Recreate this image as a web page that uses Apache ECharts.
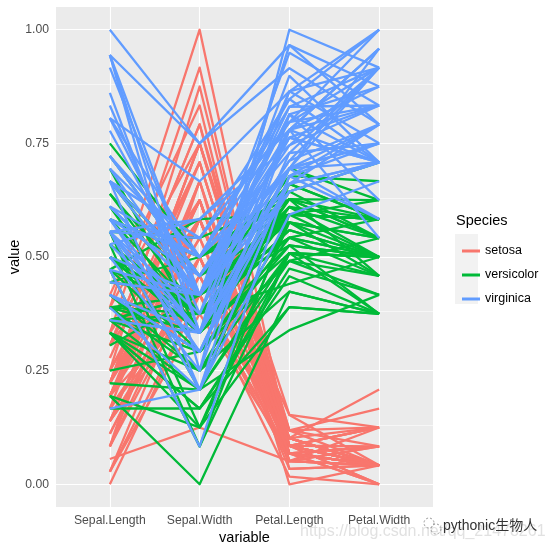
<!DOCTYPE html>
<html>
<head>
<meta charset="utf-8">
<script src="https://cdn.jsdelivr.net/npm/echarts@6/dist/echarts.min.js"></script>
<style>html,body{margin:0;padding:0;background:#fff}#c{width:553px;height:552px}</style>
</head>
<body>
<div id="c"></div>
<script>
// Iris measurements (rows 1-50 setosa, 51-100 versicolor, 101-150 virginica)
var variables = ['Sepal.Length', 'Sepal.Width', 'Petal.Length', 'Petal.Width'];
var speciesNames = ['setosa', 'versicolor', 'virginica'];
var speciesColors = ['#F8766D', '#00BA38', '#619CFF'];
var rowsPerSpecies = [50, 50, 50];
var yTicks = [0, 0.25, 0.5, 0.75, 1];
var yMinorTicks = [0.125, 0.375, 0.625, 0.875];

var sepalLength = [
5.1,4.9,4.7,4.6,5.0,5.4,4.6,5.0,4.4,4.9,5.4,4.8,4.8,4.3,5.8,5.7,5.4,5.1,5.7,5.1,5.4,5.1,4.6,5.1,4.8,5.0,5.0,5.2,5.2,4.7,4.8,5.4,5.2,5.5,4.9,5.0,5.5,4.9,4.4,5.1,5.0,4.5,4.4,5.0,5.1,4.8,5.1,4.6,5.3,5.0,
7.0,6.4,6.9,5.5,6.5,5.7,6.3,4.9,6.6,5.2,5.0,5.9,6.0,6.1,5.6,6.7,5.6,5.8,6.2,5.6,5.9,6.1,6.3,6.1,6.4,6.6,6.8,6.7,6.0,5.7,5.5,5.5,5.8,6.0,5.4,6.0,6.7,6.3,5.6,5.5,5.5,6.1,5.8,5.0,5.6,5.7,5.7,6.2,5.1,5.7,
6.3,5.8,7.1,6.3,6.5,7.6,4.9,7.3,6.7,7.2,6.5,6.4,6.8,5.7,5.8,6.4,6.5,7.7,7.7,6.0,6.9,5.6,7.7,6.3,6.7,7.2,6.2,6.1,6.4,7.2,7.4,7.9,6.4,6.3,6.1,7.7,6.3,6.4,6.0,6.9,6.7,6.9,5.8,6.8,6.7,6.7,6.3,6.5,6.2,5.9];
var sepalWidth = [
3.5,3.0,3.2,3.1,3.6,3.9,3.4,3.4,2.9,3.1,3.7,3.4,3.0,3.0,4.0,4.4,3.9,3.5,3.8,3.8,3.4,3.7,3.6,3.3,3.4,3.0,3.4,3.5,3.4,3.2,3.1,3.4,4.1,4.2,3.1,3.2,3.5,3.6,3.0,3.4,3.5,2.3,3.2,3.5,3.8,3.0,3.8,3.2,3.7,3.3,
3.2,3.2,3.1,2.3,2.8,2.8,3.3,2.4,2.9,2.7,2.0,3.0,2.2,2.9,2.9,3.1,3.0,2.7,2.2,2.5,3.2,2.8,2.5,2.8,2.9,3.0,2.8,3.0,2.9,2.6,2.4,2.4,2.7,2.7,3.0,3.4,3.1,2.3,3.0,2.5,2.6,3.0,2.6,2.3,2.7,3.0,2.9,2.9,2.5,2.8,
3.3,2.7,3.0,2.9,3.0,3.0,2.5,2.9,2.5,3.6,3.2,2.7,3.0,2.5,2.8,3.2,3.0,3.8,2.6,2.2,3.2,2.8,2.8,2.7,3.3,3.2,2.8,3.0,2.8,3.0,2.8,3.8,2.8,2.8,2.6,3.0,3.4,3.1,3.0,3.1,3.1,3.1,2.7,3.2,3.3,3.0,2.5,3.0,3.4,3.0];
var petalLength = [
1.4,1.4,1.3,1.5,1.4,1.7,1.4,1.5,1.4,1.5,1.5,1.6,1.4,1.1,1.2,1.5,1.3,1.4,1.7,1.5,1.7,1.5,1.0,1.7,1.9,1.6,1.6,1.5,1.4,1.6,1.6,1.5,1.5,1.4,1.5,1.2,1.3,1.4,1.3,1.5,1.3,1.3,1.3,1.6,1.9,1.4,1.6,1.4,1.5,1.4,
4.7,4.5,4.9,4.0,4.6,4.5,4.7,3.3,4.6,3.9,3.5,4.2,4.0,4.7,3.6,4.4,4.5,4.1,4.5,3.9,4.8,4.0,4.9,4.7,4.3,4.4,4.8,5.0,4.5,3.5,3.8,3.7,3.9,5.1,4.5,4.5,4.7,4.4,4.1,4.0,4.4,4.6,4.0,3.3,4.2,4.2,4.2,4.3,3.0,4.1,
6.0,5.1,5.9,5.6,5.8,6.6,4.5,6.3,5.8,6.1,5.1,5.3,5.5,5.0,5.1,5.3,5.5,6.7,6.9,5.0,5.7,4.9,6.7,4.9,5.7,6.0,4.8,4.9,5.6,5.8,6.1,6.4,5.6,5.1,5.6,6.1,5.6,5.5,4.8,5.4,5.6,5.1,5.1,5.9,5.7,5.2,5.0,5.2,5.4,5.1];
var petalWidth = [
0.2,0.2,0.2,0.2,0.2,0.4,0.3,0.2,0.2,0.1,0.2,0.2,0.1,0.1,0.2,0.4,0.4,0.3,0.3,0.3,0.2,0.4,0.2,0.5,0.2,0.2,0.4,0.2,0.2,0.2,0.2,0.4,0.1,0.2,0.2,0.2,0.2,0.1,0.2,0.2,0.3,0.3,0.2,0.6,0.4,0.3,0.2,0.2,0.2,0.2,
1.4,1.5,1.5,1.3,1.5,1.3,1.6,1.0,1.3,1.4,1.0,1.5,1.0,1.4,1.3,1.4,1.5,1.0,1.5,1.1,1.8,1.3,1.5,1.2,1.3,1.4,1.4,1.7,1.5,1.0,1.1,1.0,1.2,1.6,1.5,1.6,1.5,1.3,1.3,1.3,1.2,1.4,1.2,1.0,1.3,1.2,1.3,1.3,1.1,1.3,
2.5,1.9,2.1,1.8,2.2,2.1,1.7,1.8,1.8,2.5,2.0,1.9,2.1,2.0,2.4,2.3,1.8,2.2,2.3,1.5,2.3,2.0,2.0,1.8,2.1,1.8,1.8,1.8,2.1,1.6,1.9,2.0,2.2,1.5,1.4,2.3,2.4,1.8,1.8,2.1,2.4,2.3,1.9,2.3,2.5,2.3,1.9,2.0,2.3,1.8];

var columns = [sepalLength, sepalWidth, petalLength, petalWidth];
// min-max scaling as in the plotted 'value'
var scaled = columns.map(function (col) {
  var mn = Math.min.apply(null, col), mx = Math.max.apply(null, col);
  return col.map(function (v) { return (v - mn) / (mx - mn); });
});

var series = [];
// grid lines (drawn under the data)
series.push({
  type: 'line', data: [], z: 1, silent: true,
  markLine: {
    z: 1, silent: true, symbol: 'none', label: { show: false }, animation: false,
    data: yTicks.map(function (v) { return { yAxis: v, lineStyle: { color: '#FFFFFF', width: 1.1, type: 'solid' } }; })
      .concat(yMinorTicks.map(function (v) { return { yAxis: v, lineStyle: { color: '#FFFFFF', width: 0.55, type: 'solid' } }; }))
      .concat(variables.map(function (n, i) { return { xAxis: i, lineStyle: { color: '#FFFFFF', width: 1.1, type: 'solid' } }; }))
  }
});

var row = 0;
speciesNames.forEach(function (sp, s) {
  for (var k = 0; k < rowsPerSpecies[s]; k++, row++) {
    series.push({
      type: 'line', name: sp, z: 3, silent: true,
      symbol: 'none', showSymbol: false,
      lineStyle: { color: speciesColors[s], width: 2.3, join: 'round', cap: 'butt' },
      itemStyle: { color: speciesColors[s] },
      data: variables.map(function (n, i) { return [i, scaled[i][row]]; })
    });
  }
});

var chart = echarts.init(document.getElementById('c'), null, { renderer: 'canvas' });
chart.setOption({
  animation: false,
  backgroundColor: '#FFFFFF',
  grid: { left: 56, top: 7, right: 120, bottom: 45, show: true, backgroundColor: '#EBEBEB', borderWidth: 0, containLabel: false, outerBoundsMode: 'none' },
  xAxis: {
    type: 'value', min: -0.6, max: 3.6,
    name: 'variable', nameLocation: 'middle', nameGap: 23, nameMoveOverlap: false,
    nameTextStyle: { color: '#000', fontSize: 14.5, fontFamily: 'Liberation Sans' },
    axisLine: { show: false },
    splitLine: { show: false },
    axisTick: { show: true, customValues: [0, 1, 2, 3], length: 4, lineStyle: { color: '#333333', width: 1 } },
    axisLabel: {
      customValues: [0, 1, 2, 3], margin: 8, color: '#4D4D4D', fontSize: 12.2, fontFamily: 'Liberation Sans',
      formatter: function (v) { return variables[Math.round(v)]; }
    }
  },
  yAxis: {
    type: 'value', min: -0.05, max: 1.05,
    name: 'value', nameLocation: 'middle', nameGap: 34, nameRotate: 90, nameMoveOverlap: false,
    nameTextStyle: { color: '#000', fontSize: 14.5, fontFamily: 'Liberation Sans' },
    axisLine: { show: false },
    splitLine: { show: false },
    axisTick: { show: true, customValues: yTicks, length: 4, lineStyle: { color: '#333333', width: 1 } },
    axisLabel: {
      customValues: yTicks, margin: 7, color: '#4D4D4D', fontSize: 12.2, fontFamily: 'Liberation Sans',
      formatter: function (v) { return v.toFixed(2); }
    }
  },
  legend: {
    data: speciesNames, orient: 'vertical', left: 457, top: 239,
    icon: 'rect', itemWidth: 18, itemHeight: 3, itemGap: 10,
    selectedMode: false,
    textStyle: { color: '#000', fontSize: 12.5, lineHeight: 14, fontFamily: 'Liberation Sans', padding: [0, 0, 0, 0] }
  },
  graphic: [
    { type: 'rect', left: 455, top: 234, z: -1, shape: { width: 23, height: 70 }, style: { fill: '#F2F2F2' } },
    { type: 'text', left: 456, top: 213, style: { text: 'Species', fill: '#000', font: '14.5px "Liberation Sans"' } },
    { type: 'text', left: 300, top: 524, z: 100, style: { text: 'https://blog.csdn.net/qq_21478261', fill: 'rgba(200,200,200,0.55)', font: '16px "Liberation Sans"' } },
    { type: 'circle', z: 100, shape: { cx: 429, cy: 523, r: 5 }, style: { fill: 'none', stroke: '#999', lineWidth: 1, lineDash: [2, 2] } },
    { type: 'circle', z: 100, shape: { cx: 436, cy: 529, r: 5 }, style: { fill: 'none', stroke: '#999', lineWidth: 1, lineDash: [2, 2] } },
    { type: 'text', left: 443, top: 519, z: 100, style: { text: 'pythonic生物人', fill: '#333', font: '14px "Liberation Sans", "Noto Sans CJK SC"' } }
  ],
  series: series
});
</script>
</body>
</html>
